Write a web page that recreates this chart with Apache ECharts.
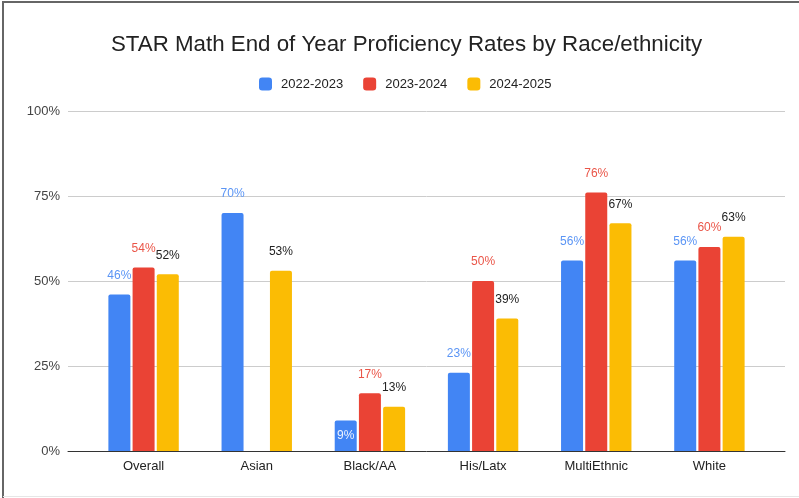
<!DOCTYPE html>
<html><head><meta charset="utf-8">
<script src="https://cdn.jsdelivr.net/npm/echarts@6/dist/echarts.min.js"></script>
<style>html,body{margin:0;padding:0;background:#fff}#c{width:799px;height:498px}</style>
</head><body><div id="c"></div>
<script>
var categories = ['Overall', 'Asian', 'Black/AA', 'His/Latx', 'MultiEthnic', 'White'];
var seriesNames = ['2022-2023', '2023-2024', '2024-2025'];
var s2022 = [46, 70, 9, 23, 56, 56];
var s2023 = [54, null, 17, 50, 76, 60];
var s2024 = [52, 53, 13, 39, 67, 63];
var yTicks = [0, 25, 50, 75, 100];

var colors = ['#4285F4', '#EA4335', '#FBBC04'];
var labelColors = ['#5b95f5', '#ea5548', '#222222'];
var FONT = "'Liberation Sans', Arial, sans-serif";

function buildData(arr) {
  return arr.map(function (v) {
    if (v === null) return null;
    if (v < 10) {
      return { value: v, label: { position: 'inside', color: '#eef3fe' } };
    }
    return v;
  });
}

var allSeries = [s2022, s2023, s2024].map(function (arr, i) {
  return {
    name: seriesNames[i],
    type: 'bar',
    xAxisIndex: 1,
    yAxisIndex: 1,
    barWidth: 22,
    barGap: '10%',
    itemStyle: { color: colors[i], borderRadius: [2, 2, 0, 0] },
    label: {
      show: true,
      position: 'top',
      distance: 13,
      color: labelColors[i],
      fontFamily: FONT,
      fontSize: 12,
      formatter: function (p) { return p.value + '%'; }
    },
    data: buildData(arr)
  };
});

var chart = echarts.init(document.getElementById('c'), null, { renderer: 'canvas' });
chart.setOption({
  animation: false,
  textStyle: { fontFamily: FONT },
  title: {
    text: 'STAR Math End of Year Proficiency Rates by Race/ethnicity',
    left: 106,
    top: 29,
    textStyle: { fontFamily: FONT, fontSize: 22.3, fontWeight: 'normal', color: '#222' }
  },
  legend: {
    top: 72.5,
    left: 254,
    itemWidth: 13,
    itemHeight: 13,
    itemGap: 20,
    icon: 'roundRect',
    textStyle: { fontFamily: FONT, fontSize: 13, color: '#222', padding: [0, 0, 0, 4] },
    data: seriesNames
  },
  color: colors,
  grid: [
    { left: 68, right: 14, top: 111, bottom: 47 },
    { left: 87, right: 33, top: 111, bottom: 47 }
  ],
  xAxis: [
    {
      type: 'value', gridIndex: 0, min: 0, max: 1,
      axisLine: { show: true, lineStyle: { color: '#333', width: 1 } },
      axisTick: { show: false }, axisLabel: { show: false }, splitLine: { show: false }
    },
    {
      type: 'category', gridIndex: 1, data: categories,
      axisLine: { show: false }, axisTick: { show: false },
      axisLabel: { color: '#222', fontSize: 13, fontFamily: FONT, margin: 9 }
    }
  ],
  yAxis: [
    {
      type: 'value', gridIndex: 0, min: yTicks[0], max: yTicks[yTicks.length - 1], interval: 25,
      axisLine: { show: false }, axisTick: { show: false },
      axisLabel: { color: '#444', fontSize: 13, fontFamily: FONT, margin: 8, formatter: '{value}%' },
      splitLine: { lineStyle: { color: '#cccccc', width: 1 } }
    },
    {
      type: 'value', gridIndex: 1, min: 0, max: 100,
      show: false
    }
  ],
  series: allSeries,
  graphic: [
    { type: 'line', shape: { x1: 3, y1: 2, x2: 799, y2: 2 }, style: { stroke: '#666', lineWidth: 2 }, z: 100 },
    { type: 'line', shape: { x1: 3, y1: 1, x2: 3, y2: 498 }, style: { stroke: '#666', lineWidth: 2 }, z: 100 },
    { type: 'line', shape: { x1: 3, y1: 496.5, x2: 799, y2: 496.5 }, style: { stroke: '#e6e6e6', lineWidth: 1 }, z: 100 }
  ]
});
</script></body></html>
